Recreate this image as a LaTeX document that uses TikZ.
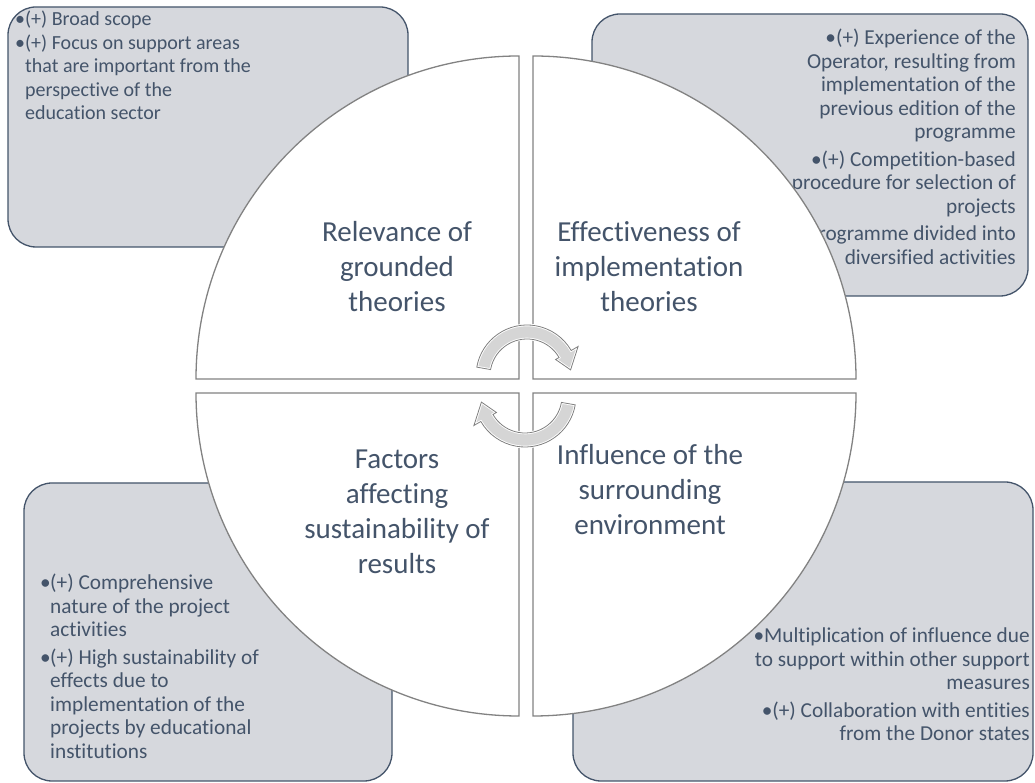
\documentclass[tikz,border=0pt]{standalone}
\usepackage{fontspec}
\setmainfont{Carlito}[Ligatures={NoCommon}]
\definecolor{slate}{RGB}{68,84,106}
\definecolor{notegray}{RGB}{214,216,221}
\definecolor{rimgray}{RGB}{130,130,130}
\definecolor{turngray}{RGB}{213,213,213}
\tikzset{
  note/.style={draw=slate, fill=notegray, line width=1.3pt, rounded corners=28pt},
  quarter/.style={draw=rimgray, fill=white, line width=1.3pt},
  title/.style={text=slate, align=center, inner sep=0pt, font=\fontsize{29}{35}\selectfont},
  points/.style={text=slate, inner sep=0pt, font=\fontsize{21.3}{23.5}\selectfont},
  smallpoints/.style={points, font=\fontsize{20}{23.5}\selectfont},
}
\newcommand{\bul}{\makebox[10pt][l]{•}}
\newcommand{\bulgap}{\hspace*{10pt}}
\newcommand{\turnpath}{(170:51) arc[start angle=170,end angle=30,radius=51] -- (30:59) -- (8:44) -- (30:33) -- (30:37) arc[start angle=30,end angle=170,radius=37] -- cycle}
\newcommand{\turnarrow}[2]{%
  \path[shift={#1}, rotate=#2, fill=turngray, draw=white, line width=2.6pt] \turnpath;
  \draw[shift={#1}, rotate=#2, draw=gray, line width=0.8pt] \turnpath;}

\begin{document}
\begin{tikzpicture}[x=1pt, y=1pt]
  \useasboundingbox (0,0) rectangle (1035,783);

  \draw[note] (8,536) rectangle (408,776);
  \draw[note] (592,487) rectangle (1028,769);
  \draw[note] (24,2) rectangle (392,300);
  \draw[note] (573,2) rectangle (1033,301);

  \node[smallpoints, align=left, anchor=north west] (relevnote) at (15,772)
    {\bul(+) Broad scope\\
     \bul(+) Focus on support areas\\
     \bulgap that are important from the\\
     \bulgap perspective of the\\
     \bulgap education sector};
  \node[points, align=right, anchor=north east] (effectnote) at (1016,754)
    {•(+) Experience of the\\
     Operator, resulting from\\
     implementation of the\\
     previous edition of the\\
     programme\\[4pt]
     •(+) Competition-based\\
     procedure for selection of\\
     projects\\[4pt]
     •Programme divided into\\
     diversified activities};
  \node[points, align=left, anchor=north west] (factorsnote) at (40,209)
    {\bul(+) Comprehensive\\
     \bulgap nature of the project\\
     \bulgap activities\\[4pt]
     \bul(+) High sustainability of\\
     \bulgap effects due to\\
     \bulgap implementation of the\\
     \bulgap projects by educational\\
     \bulgap institutions};
  \node[points, align=right, anchor=north east] (influencenote) at (1030,155)
    {•Multiplication of influence due\\
     to support within other support\\
     measures\\[4pt]
     •(+) Collaboration with entities\\
     from the Donor states};

  \draw[quarter] (519,404) -- (196,404) arc[start angle=180, end angle=90, radius=323] -- cycle;
  \draw[quarter] (533,404) -- (533,727) arc[start angle=90, end angle=0, radius=323] -- cycle;
  \draw[quarter] (519,390) -- (519,67) arc[start angle=270, end angle=180, radius=323] -- cycle;
  \draw[quarter] (533,390) -- (856,390) arc[start angle=0, end angle=-90, radius=323] -- cycle;

  \node[title] (relevance) at (397,516) {Relevance of\\grounded\\theories};
  \node[title] (effectiveness) at (649,516) {Effectiveness of\\implementation\\theories};
  \node[title] (factors) at (397,271) {Factors\\affecting\\sustainability of\\results};
  \node[title] (influence) at (650,293) {Influence of the\\surrounding\\environment};

  \turnarrow{(527,407)}{0}
  \turnarrow{(525,387)}{180}
\end{tikzpicture}
\end{document}
